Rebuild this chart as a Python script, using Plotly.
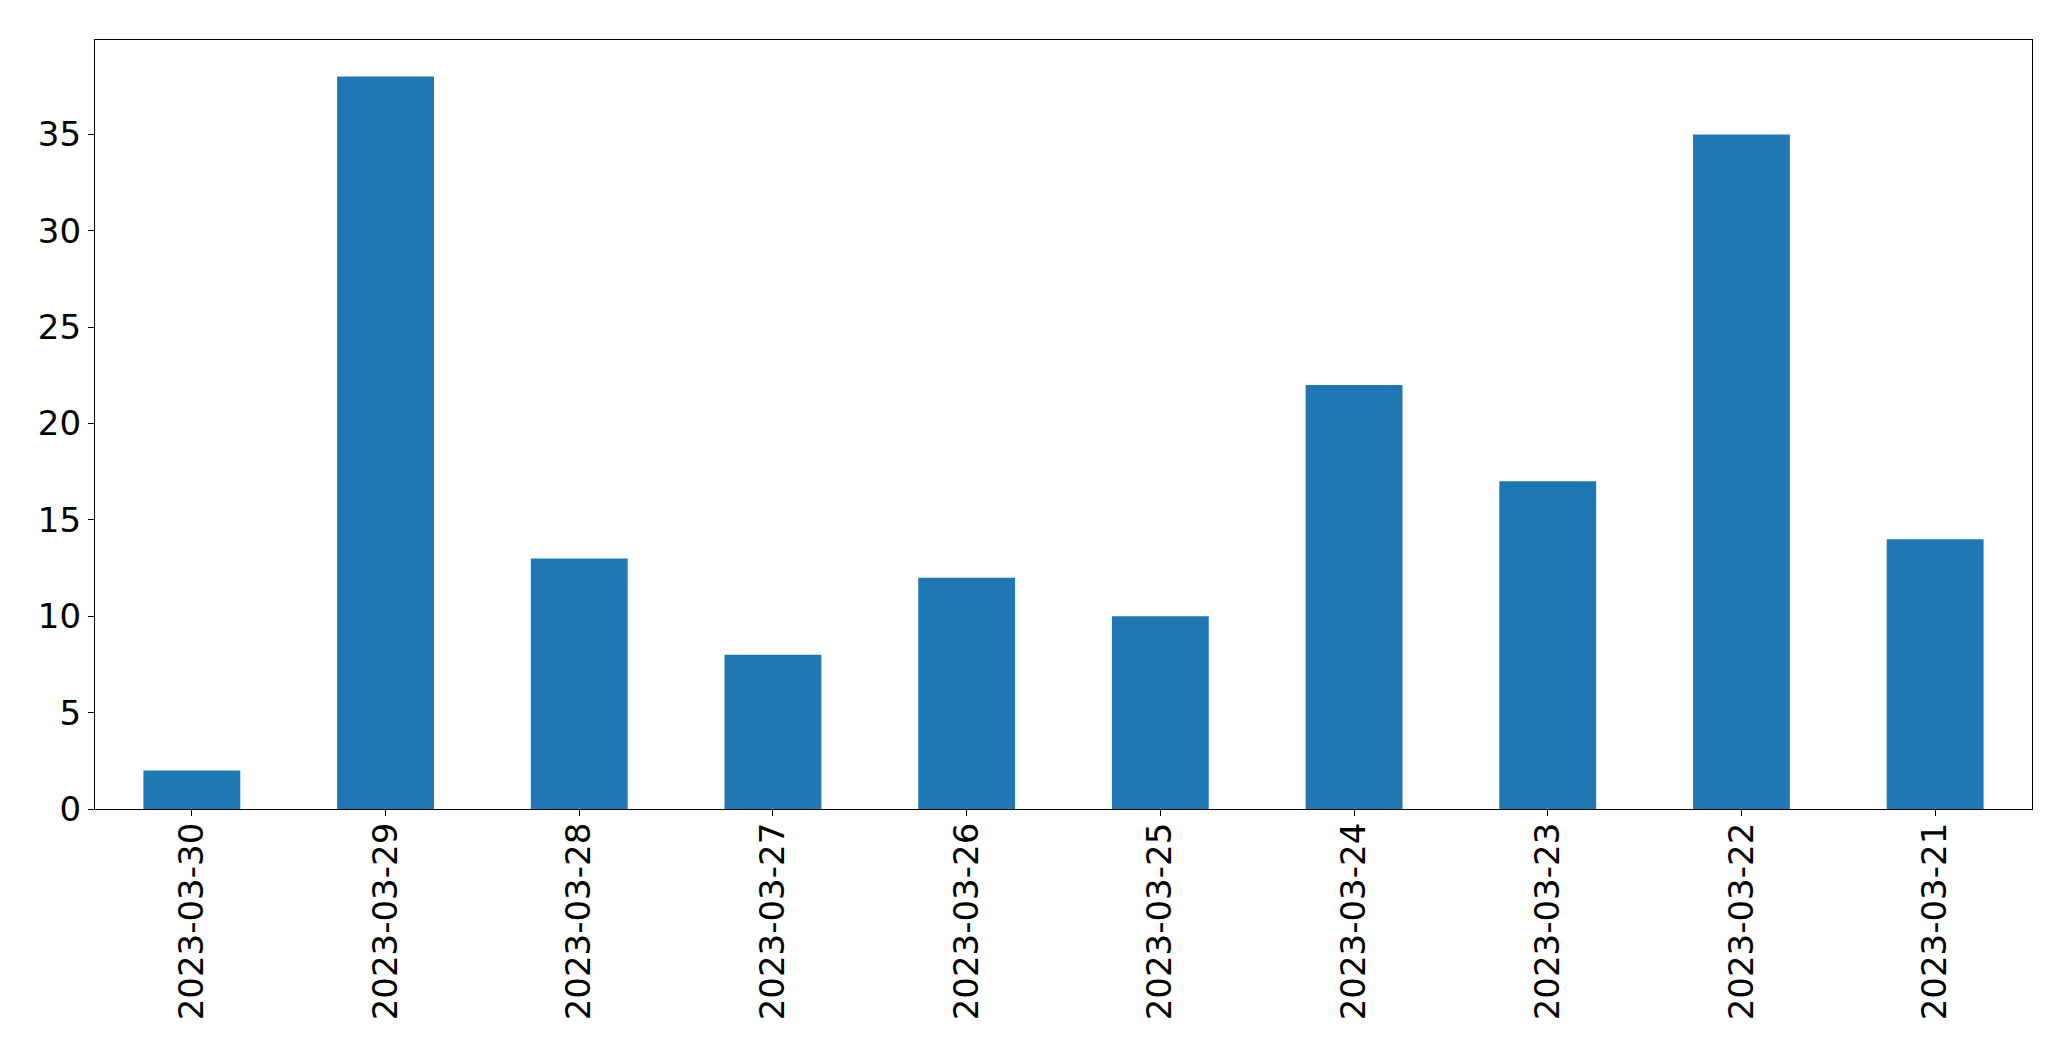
import plotly.graph_objects as go

dates = ["2023-03-30", "2023-03-29", "2023-03-28", "2023-03-27", "2023-03-26",
         "2023-03-25", "2023-03-24", "2023-03-23", "2023-03-22", "2023-03-21"]
counts = [2, 38, 13, 8, 12, 10, 22, 17, 35, 14]

fig = go.Figure(go.Bar(x=dates, y=counts, marker_color="#1f77b4", width=0.5,
                       marker_line_width=0))

fig.update_layout(
    width=2071, height=1061,
    margin=dict(l=95, r=39, t=40, b=252, pad=0),
    plot_bgcolor="white", paper_bgcolor="white",
    font=dict(family="DejaVu Sans", size=34, color="black"),
    showlegend=False,
)
fig.update_xaxes(type="category", range=[-0.5, 9.5], showline=True, linecolor="black",
                 linewidth=1.3, mirror=True, ticks="outside", ticklen=6, tickcolor="black",
                 tickangle=-90, showgrid=False, zeroline=False, ticklabelstandoff=-7)
fig.update_yaxes(range=[0, 39.9], tickvals=[0, 5, 10, 15, 20, 25, 30, 35], showline=True,
                 linecolor="black", linewidth=1.3, mirror=True, ticks="outside", ticklen=6,
                 tickcolor="black", showgrid=False, zeroline=False)

fig.write_html("out.html")
